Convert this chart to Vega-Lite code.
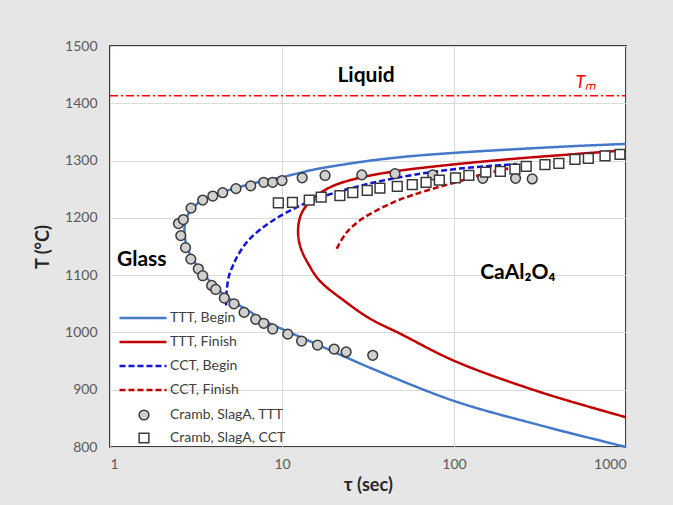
{
  "$schema": "https://vega.github.io/schema/vega-lite/v6.json",
  "width": 516,
  "height": 401,
  "autosize": {"type": "none"},
  "padding": {"left": 110, "top": 46, "right": 47, "bottom": 58},
  "background": "#e6e6e6",
  "config": {
    "view": {"fill": "white", "stroke": "black", "strokeWidth": 1.5},
    "font": "Lato",
    "axis": {
      "labelFont": "Lato", "labelFontSize": 14, "labelColor": "#595959",
      "titleFont": "Lato", "titleFontSize": 18, "titleFontWeight": "bold", "titleColor": "#262626",
      "gridColor": "#d9d9d9", "gridWidth": 1, "ticks": false, "domain": false
    }
  },
  "datasets": {
    "tm": [{"tau": 1, "T": 1413}, {"tau": 1000, "T": 1413}],
    "curves": [
      {"curve": "TTT, Begin", "i": 1, "tau": 1000, "T": 800},
      {"curve": "TTT, Begin", "i": 2, "tau": 316, "T": 838},
      {"curve": "TTT, Begin", "i": 3, "tau": 101, "T": 880},
      {"curve": "TTT, Begin", "i": 4, "tau": 33.9, "T": 936},
      {"curve": "TTT, Begin", "i": 5, "tau": 23.8, "T": 956},
      {"curve": "TTT, Begin", "i": 6, "tau": 15.2, "T": 982},
      {"curve": "TTT, Begin", "i": 7, "tau": 10.9, "T": 1001},
      {"curve": "TTT, Begin", "i": 8, "tau": 7.96, "T": 1020},
      {"curve": "TTT, Begin", "i": 9, "tau": 6.37, "T": 1038},
      {"curve": "TTT, Begin", "i": 10, "tau": 5.10, "T": 1056},
      {"curve": "TTT, Begin", "i": 11, "tau": 4.08, "T": 1080},
      {"curve": "TTT, Begin", "i": 12, "tau": 3.30, "T": 1112},
      {"curve": "TTT, Begin", "i": 13, "tau": 2.95, "T": 1134},
      {"curve": "TTT, Begin", "i": 14, "tau": 2.76, "T": 1157},
      {"curve": "TTT, Begin", "i": 15, "tau": 2.71, "T": 1178},
      {"curve": "TTT, Begin", "i": 16, "tau": 2.76, "T": 1196},
      {"curve": "TTT, Begin", "i": 17, "tau": 2.94, "T": 1213},
      {"curve": "TTT, Begin", "i": 18, "tau": 3.30, "T": 1227},
      {"curve": "TTT, Begin", "i": 19, "tau": 4.08, "T": 1240},
      {"curve": "TTT, Begin", "i": 20, "tau": 5.10, "T": 1250},
      {"curve": "TTT, Begin", "i": 21, "tau": 6.37, "T": 1258},
      {"curve": "TTT, Begin", "i": 22, "tau": 7.96, "T": 1265},
      {"curve": "TTT, Begin", "i": 23, "tau": 10.0, "T": 1271},
      {"curve": "TTT, Begin", "i": 24, "tau": 15.2, "T": 1284},
      {"curve": "TTT, Begin", "i": 25, "tau": 23.8, "T": 1294},
      {"curve": "TTT, Begin", "i": 26, "tau": 37.1, "T": 1302},
      {"curve": "TTT, Begin", "i": 27, "tau": 57.8, "T": 1308},
      {"curve": "TTT, Begin", "i": 28, "tau": 101, "T": 1313.5},
      {"curve": "TTT, Begin", "i": 29, "tau": 232, "T": 1320},
      {"curve": "TTT, Begin", "i": 30, "tau": 565, "T": 1326},
      {"curve": "TTT, Begin", "i": 31, "tau": 1000, "T": 1329},

      {"curve": "TTT, Finish", "i": 1, "tau": 1000, "T": 852},
      {"curve": "TTT, Finish", "i": 2, "tau": 316, "T": 896},
      {"curve": "TTT, Finish", "i": 3, "tau": 101, "T": 950},
      {"curve": "TTT, Finish", "i": 4, "tau": 48.5, "T": 998},
      {"curve": "TTT, Finish", "i": 5, "tau": 32.5, "T": 1024},
      {"curve": "TTT, Finish", "i": 6, "tau": 23.3, "T": 1054},
      {"curve": "TTT, Finish", "i": 7, "tau": 16.6, "T": 1090},
      {"curve": "TTT, Finish", "i": 8, "tau": 14.2, "T": 1120},
      {"curve": "TTT, Finish", "i": 9, "tau": 12.8, "T": 1149},
      {"curve": "TTT, Finish", "i": 10, "tau": 12.4, "T": 1177},
      {"curve": "TTT, Finish", "i": 11, "tau": 12.8, "T": 1203},
      {"curve": "TTT, Finish", "i": 12, "tau": 13.9, "T": 1222},
      {"curve": "TTT, Finish", "i": 13, "tau": 15.9, "T": 1239},
      {"curve": "TTT, Finish", "i": 14, "tau": 19.9, "T": 1256},
      {"curve": "TTT, Finish", "i": 15, "tau": 28.4, "T": 1270},
      {"curve": "TTT, Finish", "i": 16, "tau": 44.8, "T": 1281},
      {"curve": "TTT, Finish", "i": 17, "tau": 90.7, "T": 1292},
      {"curve": "TTT, Finish", "i": 18, "tau": 221, "T": 1303},
      {"curve": "TTT, Finish", "i": 19, "tau": 540, "T": 1312},
      {"curve": "TTT, Finish", "i": 20, "tau": 1000, "T": 1318},

      {"curve": "CCT, Begin", "i": 1, "tau": 4.73, "T": 1047},
      {"curve": "CCT, Begin", "i": 2, "tau": 4.77, "T": 1073},
      {"curve": "CCT, Begin", "i": 3, "tau": 4.92, "T": 1099},
      {"curve": "CCT, Begin", "i": 4, "tau": 5.19, "T": 1117},
      {"curve": "CCT, Begin", "i": 5, "tau": 5.55, "T": 1135},
      {"curve": "CCT, Begin", "i": 6, "tau": 6.34, "T": 1160},
      {"curve": "CCT, Begin", "i": 7, "tau": 7.65, "T": 1182},
      {"curve": "CCT, Begin", "i": 8, "tau": 9.48, "T": 1201},
      {"curve": "CCT, Begin", "i": 9, "tau": 11.9, "T": 1217},
      {"curve": "CCT, Begin", "i": 10, "tau": 15.1, "T": 1231},
      {"curve": "CCT, Begin", "i": 11, "tau": 23.9, "T": 1250},
      {"curve": "CCT, Begin", "i": 12, "tau": 37.1, "T": 1264},
      {"curve": "CCT, Begin", "i": 13, "tau": 57.8, "T": 1275},
      {"curve": "CCT, Begin", "i": 14, "tau": 108, "T": 1286},
      {"curve": "CCT, Begin", "i": 15, "tau": 232, "T": 1294},

      {"curve": "CCT, Finish", "i": 1, "tau": 20.8, "T": 1146},
      {"curve": "CCT, Finish", "i": 2, "tau": 23.8, "T": 1175},
      {"curve": "CCT, Finish", "i": 3, "tau": 28.8, "T": 1197},
      {"curve": "CCT, Finish", "i": 4, "tau": 37.1, "T": 1216},
      {"curve": "CCT, Finish", "i": 5, "tau": 46.7, "T": 1230},
      {"curve": "CCT, Finish", "i": 6, "tau": 57.8, "T": 1240},
      {"curve": "CCT, Finish", "i": 7, "tau": 79.6, "T": 1253},
      {"curve": "CCT, Finish", "i": 8, "tau": 108, "T": 1264},
      {"curve": "CCT, Finish", "i": 9, "tau": 147, "T": 1276},
      {"curve": "CCT, Finish", "i": 10, "tau": 220, "T": 1288}
    ],
    "points": [
      {"set": "Cramb, SlagA, TTT", "tau": 2.50, "T": 1190},
      {"set": "Cramb, SlagA, TTT", "tau": 2.67, "T": 1197},
      {"set": "Cramb, SlagA, TTT", "tau": 2.96, "T": 1217},
      {"set": "Cramb, SlagA, TTT", "tau": 3.46, "T": 1231},
      {"set": "Cramb, SlagA, TTT", "tau": 3.96, "T": 1238},
      {"set": "Cramb, SlagA, TTT", "tau": 4.52, "T": 1244},
      {"set": "Cramb, SlagA, TTT", "tau": 5.40, "T": 1251},
      {"set": "Cramb, SlagA, TTT", "tau": 6.58, "T": 1256},
      {"set": "Cramb, SlagA, TTT", "tau": 7.83, "T": 1262},
      {"set": "Cramb, SlagA, TTT", "tau": 8.83, "T": 1262},
      {"set": "Cramb, SlagA, TTT", "tau": 10.0, "T": 1265},
      {"set": "Cramb, SlagA, TTT", "tau": 13.1, "T": 1270},
      {"set": "Cramb, SlagA, TTT", "tau": 17.8, "T": 1274},
      {"set": "Cramb, SlagA, TTT", "tau": 29.1, "T": 1275},
      {"set": "Cramb, SlagA, TTT", "tau": 45.4, "T": 1277},
      {"set": "Cramb, SlagA, TTT", "tau": 75.2, "T": 1275},
      {"set": "Cramb, SlagA, TTT", "tau": 147, "T": 1269},
      {"set": "Cramb, SlagA, TTT", "tau": 228, "T": 1269},
      {"set": "Cramb, SlagA, TTT", "tau": 285, "T": 1268},
      {"set": "Cramb, SlagA, TTT", "tau": 2.58, "T": 1169},
      {"set": "Cramb, SlagA, TTT", "tau": 2.75, "T": 1148},
      {"set": "Cramb, SlagA, TTT", "tau": 2.95, "T": 1128},
      {"set": "Cramb, SlagA, TTT", "tau": 3.26, "T": 1111},
      {"set": "Cramb, SlagA, TTT", "tau": 3.46, "T": 1099},
      {"set": "Cramb, SlagA, TTT", "tau": 3.90, "T": 1082},
      {"set": "Cramb, SlagA, TTT", "tau": 4.12, "T": 1075},
      {"set": "Cramb, SlagA, TTT", "tau": 4.62, "T": 1060},
      {"set": "Cramb, SlagA, TTT", "tau": 5.26, "T": 1050},
      {"set": "Cramb, SlagA, TTT", "tau": 6.02, "T": 1035},
      {"set": "Cramb, SlagA, TTT", "tau": 7.03, "T": 1023},
      {"set": "Cramb, SlagA, TTT", "tau": 7.83, "T": 1016},
      {"set": "Cramb, SlagA, TTT", "tau": 8.83, "T": 1006},
      {"set": "Cramb, SlagA, TTT", "tau": 10.8, "T": 997},
      {"set": "Cramb, SlagA, TTT", "tau": 13.0, "T": 985},
      {"set": "Cramb, SlagA, TTT", "tau": 16.1, "T": 978},
      {"set": "Cramb, SlagA, TTT", "tau": 20.1, "T": 971},
      {"set": "Cramb, SlagA, TTT", "tau": 23.6, "T": 966},
      {"set": "Cramb, SlagA, TTT", "tau": 33.7, "T": 960},
      {"set": "Cramb, SlagA, CCT", "tau": 9.52, "T": 1226},
      {"set": "Cramb, SlagA, CCT", "tau": 11.5, "T": 1227},
      {"set": "Cramb, SlagA, CCT", "tau": 14.4, "T": 1231},
      {"set": "Cramb, SlagA, CCT", "tau": 16.9, "T": 1236},
      {"set": "Cramb, SlagA, CCT", "tau": 21.7, "T": 1239},
      {"set": "Cramb, SlagA, CCT", "tau": 25.8, "T": 1244},
      {"set": "Cramb, SlagA, CCT", "tau": 31.3, "T": 1248},
      {"set": "Cramb, SlagA, CCT", "tau": 37.1, "T": 1252},
      {"set": "Cramb, SlagA, CCT", "tau": 46.8, "T": 1255},
      {"set": "Cramb, SlagA, CCT", "tau": 57.2, "T": 1258},
      {"set": "Cramb, SlagA, CCT", "tau": 68.8, "T": 1262},
      {"set": "Cramb, SlagA, CCT", "tau": 82.2, "T": 1266},
      {"set": "Cramb, SlagA, CCT", "tau": 102, "T": 1270},
      {"set": "Cramb, SlagA, CCT", "tau": 122, "T": 1274},
      {"set": "Cramb, SlagA, CCT", "tau": 153, "T": 1280},
      {"set": "Cramb, SlagA, CCT", "tau": 186, "T": 1281},
      {"set": "Cramb, SlagA, CCT", "tau": 226, "T": 1285},
      {"set": "Cramb, SlagA, CCT", "tau": 263, "T": 1290},
      {"set": "Cramb, SlagA, CCT", "tau": 338, "T": 1293},
      {"set": "Cramb, SlagA, CCT", "tau": 407, "T": 1295},
      {"set": "Cramb, SlagA, CCT", "tau": 505, "T": 1302},
      {"set": "Cramb, SlagA, CCT", "tau": 604, "T": 1304},
      {"set": "Cramb, SlagA, CCT", "tau": 755, "T": 1308},
      {"set": "Cramb, SlagA, CCT", "tau": 923, "T": 1311}
    ],
    "labels": [
      {"label": "Liquid", "tau": 30.8, "T": 1447},
      {"label": "Glass", "tau": 1.53, "T": 1127},
      {"label": "CaAl₂O₄", "tau": 235, "T": 1104}
    ],
    "tmlabel": [
      {"label": "Tₘ", "tau": 585, "T": 1435}
    ]
  },
  "encoding": {
    "x": {
      "field": "tau", "type": "quantitative",
      "scale": {"type": "log", "domain": [1, 1000], "nice": false},
      "axis": {"title": "τ (sec)", "values": [1, 10, 100, 1000], "format": "d", "grid": true, "labelPadding": 10, "titlePadding": 5}
    },
    "y": {
      "field": "T", "type": "quantitative",
      "scale": {"domain": [800, 1500], "nice": false, "zero": false},
      "axis": {"title": "T (°C)", "values": [800, 900, 1000, 1100, 1200, 1300, 1400, 1500], "format": "d", "grid": true, "labelPadding": 13, "titlePadding": 12}
    }
  },
  "layer": [
    {
      "data": {"name": "tm"},
      "mark": {"type": "line", "color": "#ff0000", "strokeWidth": 1.5, "strokeDash": [8, 3, 2, 3]},
      "encoding": {}
    },
    {
      "data": {"name": "curves"},
      "mark": {"type": "line", "strokeWidth": 2.5, "interpolate": "catmull-rom"},
      "encoding": {
        "order": {"field": "i", "type": "quantitative"},
        "color": {
          "field": "curve", "type": "nominal",
          "scale": {"domain": ["TTT, Begin", "TTT, Finish", "CCT, Begin", "CCT, Finish"], "range": ["#4478c8", "#c00000", "#1212d8", "#c00000"]},
          "legend": {"title": null, "orient": "none", "legendX": 26, "legendY": 265, "symbolType": "M-4.7,0H4.7", "symbolSize": 100, "symbolStrokeWidth": 2.5, "labelFont": "Lato", "labelFontSize": 14, "labelColor": "#404040", "labelOffset": 20, "rowPadding": 10, "padding": 0}
        },
        "strokeDash": {
          "field": "curve", "type": "nominal",
          "scale": {"domain": ["TTT, Begin", "TTT, Finish", "CCT, Begin", "CCT, Finish"], "range": [[1, 0], [1, 0], [6, 3], [6, 3]]},
          "legend": {"title": null, "orient": "none", "legendX": 26, "legendY": 265, "symbolType": "M-4.7,0H4.7", "symbolSize": 100, "symbolStrokeWidth": 2.5, "labelFont": "Lato", "labelFontSize": 14, "labelColor": "#404040", "labelOffset": 20, "rowPadding": 10, "padding": 0}
        }
      }
    },
    {
      "data": {"name": "points"},
      "mark": {"type": "point", "filled": true, "size": 95, "stroke": "#3a3a3a", "strokeWidth": 1.5, "opacity": 1},
      "encoding": {
        "shape": {
          "field": "set", "type": "nominal",
          "scale": {"domain": ["Cramb, SlagA, TTT", "Cramb, SlagA, CCT"], "range": ["circle", "square"]},
          "legend": {"title": null, "orient": "none", "legendX": 27, "legendY": 362, "symbolSize": 95, "labelFont": "Lato", "labelFontSize": 14, "labelColor": "#404040", "labelOffset": 19, "rowPadding": 7, "padding": 0,
            "encode": {"symbols": {"update": {"stroke": {"value": "#3a3a3a"}, "strokeWidth": {"value": 1.5}}}}}
        },
        "fill": {
          "field": "set", "type": "nominal",
          "scale": {"domain": ["Cramb, SlagA, TTT", "Cramb, SlagA, CCT"], "range": ["#d0d0d0", "#ffffff"]},
          "legend": {"title": null, "orient": "none", "legendX": 27, "legendY": 362, "symbolSize": 95, "labelFont": "Lato", "labelFontSize": 14, "labelColor": "#404040", "labelOffset": 19, "rowPadding": 7, "padding": 0,
            "encode": {"symbols": {"update": {"stroke": {"value": "#3a3a3a"}, "strokeWidth": {"value": 1.5}}}}}
        }
      }
    },
    {
      "data": {"name": "labels"},
      "mark": {"type": "text", "font": "Lato", "fontSize": 21, "fontWeight": "bold", "color": "#000000", "align": "center", "baseline": "middle"},
      "encoding": {"text": {"field": "label", "type": "nominal"}}
    },
    {
      "data": {"name": "tmlabel"},
      "mark": {"type": "text", "font": "Lato", "fontSize": 18, "fontStyle": "italic", "color": "#ff0000", "align": "center", "baseline": "middle"},
      "encoding": {"text": {"field": "label", "type": "nominal"}}
    }
  ]
}
